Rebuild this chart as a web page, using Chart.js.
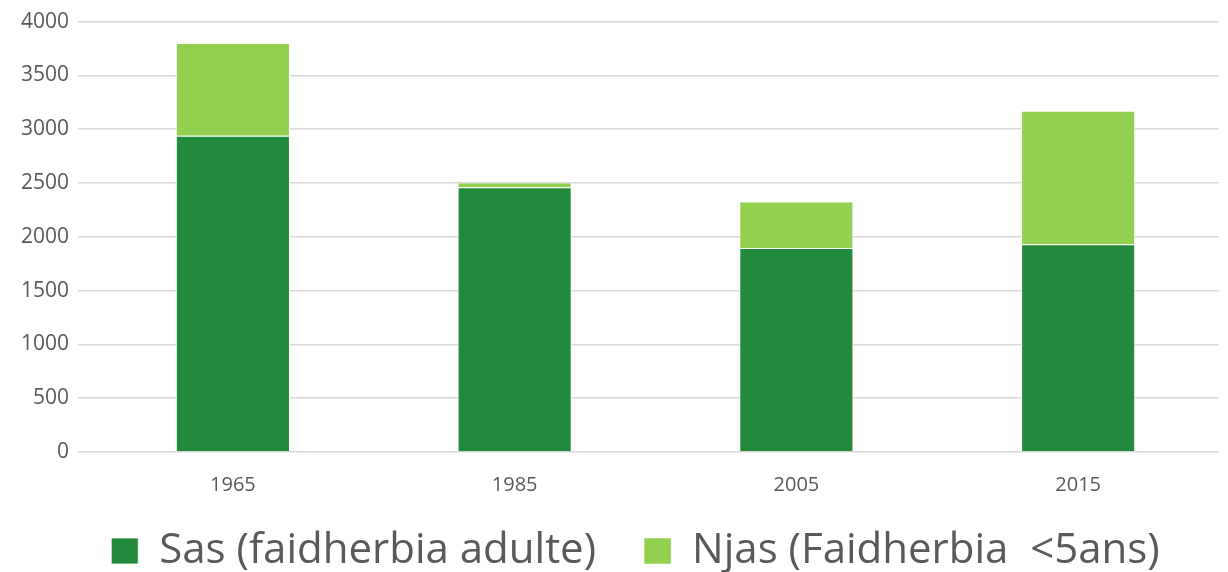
<!DOCTYPE html>
<html lang="fr">
<head>
  <meta charset="UTF-8">
  <title>Sas et Njas</title>
  <script src="https://cdn.jsdelivr.net/npm/chart.js"></script>
  <style>
    body {
      margin: 0;
      background: #fff;
    }
    .chart-container {
      width: 1228px;
      height: 572px;
      position: relative;
    }
  </style>
</head>
<body>

<div class="chart-container">
  <canvas id="chart"></canvas>
</div>

<script>
const years = ['1965', '1985', '2005', '2015'];
const sasValues = [2940, 2460, 1895, 1930];
const njasValues = [855, 38, 425, 1235];
const seriesNames = ['Sas (faidherbia adulte)', 'Njas (Faidherbia  <5ans)'];

const textColor = '#595959';
const gridColor = '#d9d9d9';
const fontFamily = '"Open Sans", sans-serif';

// legend: keep the wide gap between items but not the tall box it makes
const legendSqueeze = {
  id: 'legendSqueeze',
  beforeInit(chart) {
    const fit = chart.legend.fit;
    chart.legend.fit = function () {
      fit.call(this);
      this.height = 62;
    };
  },
  afterLayout(chart) {
    const lg = chart.legend;
    lg.top -= 28;
    lg.left += 20;
    lg.right += 20;
  }
};

const ctx = document.getElementById('chart').getContext('2d');
new Chart(ctx, {
  type: 'bar',
  data: {
    labels: years,
    datasets: [
      {
        label: seriesNames[0],
        data: sasValues,
        backgroundColor: '#228b3b',
        borderColor: '#ffffff',
        borderWidth: { left: 1, right: 1, top: 1, bottom: 0 },
        borderSkipped: false
      },
      {
        label: seriesNames[1],
        data: njasValues,
        backgroundColor: '#92d050',
        borderColor: '#ffffff',
        borderWidth: { left: 1, right: 1, top: 0, bottom: 0 },
        borderSkipped: false
      }
    ]
  },
  options: {
    responsive: true,
    maintainAspectRatio: false,
    animation: false,
    layout: {
      padding: { top: 20, right: 9, left: 12, bottom: 0 }
    },
    categoryPercentage: 0.81,
    barPercentage: 0.5,
    plugins: {
      legend: {
        position: 'bottom',
        labels: {
          color: textColor,
          font: { family: fontFamily, size: 42 },
          boxWidth: 27,
          boxHeight: 26,
          padding: 48,
          useBorderRadius: false
        }
      },
      tooltip: { enabled: false }
    },
    scales: {
      x: {
        stacked: true,
        grid: { display: false },
        border: { display: false },
        ticks: {
          color: textColor,
          font: { family: fontFamily, size: 20 },
          padding: 13
        }
      },
      y: {
        stacked: true,
        min: 0,
        max: 4000,
        ticks: {
          stepSize: 500,
          color: textColor,
          font: { family: fontFamily, size: 21 },
          padding: 9,
          callback: v => String(v)
        },
        grid: {
          color: gridColor,
          lineWidth: 1.5,
          tickLength: 14,
          tickColor: gridColor
        },
        border: { display: false }
      }
    }
  },
  plugins: [legendSqueeze]
});
</script>
</body>
</html>
